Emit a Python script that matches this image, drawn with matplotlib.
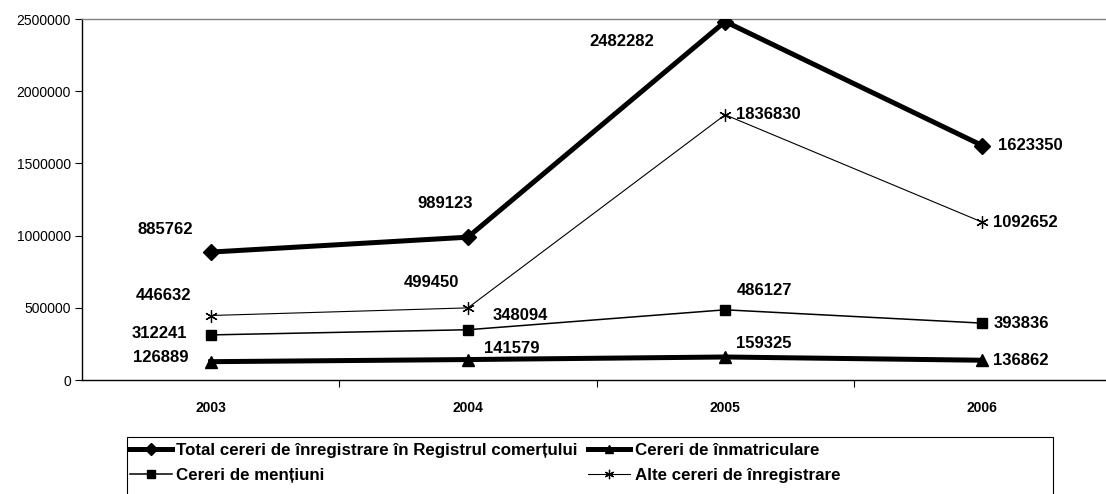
import matplotlib
matplotlib.use("Agg")
import matplotlib.pyplot as plt
from matplotlib.patches import Rectangle

years = ["2003", "2004", "2005", "2006"]
total = [885762, 989123, 2482282, 1623350]
inmatriculare = [126889, 141579, 159325, 136862]
mentiuni = [312241, 348094, 486127, 393836]
alte = [446632, 499450, 1836830, 1092652]

plt.rcParams["font.family"] = ["Liberation Sans", "DejaVu Sans"]

W, H = 1106, 494
fig = plt.figure(figsize=(W / 100, H / 100), dpi=100)
ax = fig.add_axes([82 / W, 1 - 380 / H, 1029 / W, 361 / H])

x = range(len(years))
l_total, = ax.plot(x, total, color="black", lw=3.6, marker="D", ms=8.5, zorder=4,
                   label="Total cereri de înregistrare în Registrul comerțului")
l_inm, = ax.plot(x, inmatriculare, color="black", lw=3.6, marker="^", ms=8.5, zorder=4,
                 label="Cereri de înmatriculare")
l_men, = ax.plot(x, mentiuni, color="black", lw=1.1, marker="s", ms=7, zorder=4,
                 label="Cereri de mențiuni")
l_alte, = ax.plot(x, alte, color="black", lw=0.8, marker=(6, 2, 0), ms=9, mew=0.9,
                  zorder=4, label="Alte cereri de înregistrare")

# label offsets in pixels (dx, dy) from each point
offsets = {
    "total": [(-45, 23), (-23, 34), (-103, -20), (16, 0)],
    "alte": [(-47, 20), (-36, 25), (11, 0), (11, 0)],
    "men": [(-51, 1), (52, 14), (39, 19), (11, 0)],
    "inm": [(-50, 4), (44, 11), (39, 13), (11, 0)],
}
series = {"total": total, "alte": alte, "men": mentiuni, "inm": inmatriculare}
for key, vals in series.items():
    for i, v in enumerate(vals):
        dx, dy = offsets[key][i]
        ha = "left" if i == 3 or (key == "alte" and i == 2) else "center"
        ax.annotate(str(v), (i, v), xytext=(dx, dy), textcoords="offset pixels",
                    ha=ha, va="center", fontsize=12, fontweight="bold", zorder=5)

ax.set_xlim(-0.5, 3.5)
ax.set_ylim(0, 2500000)
ax.set_yticks(range(0, 2500001, 500000))
ax.set_yticklabels([str(v) for v in range(0, 2500001, 500000)], fontsize=10)
ax.set_xticks(list(x))
ax.set_xticklabels(years, fontsize=10, fontweight="bold")
ax.set_xticks([0.5, 1.5, 2.5], minor=True)
ax.tick_params(axis="x", which="major", length=0, pad=15)
ax.tick_params(axis="x", which="minor", length=5, direction="out", width=0.8)
ax.tick_params(axis="y", length=5, direction="out", width=0.8, pad=3)

ax.spines["right"].set_visible(False)
ax.spines["top"].set_color("#808080")
ax.spines["top"].set_linewidth(1)
ax.spines["left"].set_linewidth(1)
ax.spines["bottom"].set_linewidth(1)

# legend box drawn separately, it is much wider than the entries
fig.patches.append(Rectangle((127 / W, -0.05), (1053 - 127) / W, 0.05 + 1 - 437 / H,
                             transform=fig.transFigure, fill=False, edgecolor="black",
                             lw=0.8, zorder=1))
leg = fig.legend(handles=[l_total, l_men, l_inm, l_alte], ncol=2,
                 loc="upper left", bbox_to_anchor=(128 / W, 1 - 441 / H),
                 frameon=False, prop={"size": 12.2, "weight": "bold"},
                 handlelength=2.5, handletextpad=0.25, borderaxespad=0, borderpad=0.1,
                 labelspacing=0.6, columnspacing=0.6, markerscale=0.75)

fig.savefig("out.png", dpi=100)
